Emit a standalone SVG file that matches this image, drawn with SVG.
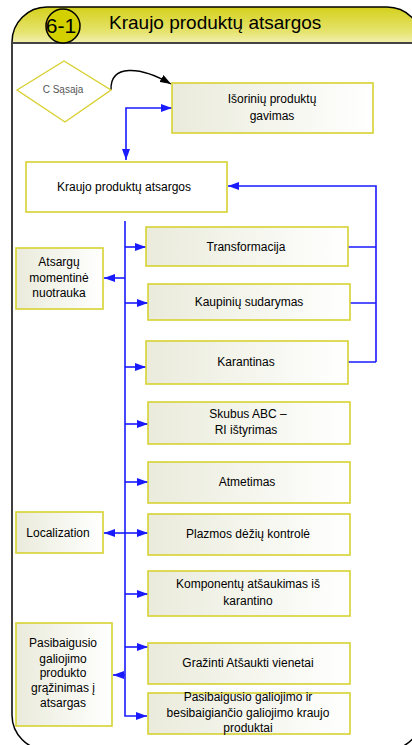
<svg xmlns="http://www.w3.org/2000/svg" width="412" height="745" viewBox="0 0 412 745">
  <defs>
    <linearGradient id="hdrGrad" x1="0" y1="0" x2="0" y2="1">
      <stop offset="0" stop-color="#d4d01c"/>
      <stop offset="0.55" stop-color="#e6e470"/>
      <stop offset="1" stop-color="#fbfbf0"/>
    </linearGradient>
    <linearGradient id="boxGrad" x1="0" y1="0" x2="1" y2="0">
      <stop offset="0" stop-color="#eaebdb"/>
      <stop offset="1" stop-color="#ffffff"/>
    </linearGradient>
    <clipPath id="frameClip">
      <rect x="12" y="7" width="410" height="743" rx="35" ry="35"/>
    </clipPath>
    <marker id="arrBlue" markerUnits="userSpaceOnUse" markerWidth="11" markerHeight="8" refX="11" refY="4" orient="auto-start-reverse">
      <path d="M0,0 L11,4 L0,8 z" fill="#1a1aff"/>
    </marker>
    <marker id="arrBlack" markerUnits="userSpaceOnUse" markerWidth="11" markerHeight="8" refX="11" refY="4" orient="auto">
      <path d="M0,0 L11,4 L0,8 z" fill="#000"/>
    </marker>
  </defs>
  <style>
    .box { fill: url(#boxGrad); stroke: #d6d232; stroke-width: 1.6; }
    .plain { fill: #ffffff; stroke: #d6d232; stroke-width: 1.6; }
    .lbl { font-family: "Liberation Sans", Arial, sans-serif; font-size: 12px; fill: #000; text-anchor: middle; }
    .wire { fill: none; stroke: #1a1aff; stroke-width: 1.6; }
  </style>

  <!-- swimlane frame with header -->
  <g id="frame">
    <rect x="12" y="7" width="410" height="46" fill="url(#hdrGrad)" clip-path="url(#frameClip)"/>
    <rect x="0" y="43" width="412" height="720" fill="#ffffff" clip-path="url(#frameClip)"/>
    <rect x="12" y="7" width="410" height="743" rx="35" ry="35" fill="none" stroke="#000" stroke-width="1.5"/>
    <line x1="12" y1="43" x2="412" y2="43" stroke="#444" stroke-width="2"/>
    <circle cx="63" cy="26" r="17" fill="#d4d000" stroke="#000" stroke-width="1.5"/>
    <text x="61" y="33" font-family="Liberation Sans, Arial, sans-serif" font-size="21" text-anchor="middle">6-1</text>
    <text x="109" y="29" font-family="Liberation Sans, Arial, sans-serif" font-size="19">Kraujo produktų atsargos</text>
  </g>

  <!-- connectors -->
  <g id="connectors">
    <path d="M111,90 C110,64 140,66 171,84" fill="none" stroke="#000" stroke-width="1.4" marker-end="url(#arrBlack)"/>
    <path class="wire" d="M172,108 H126 V160" marker-start="url(#arrBlue)" marker-end="url(#arrBlue)"/>
    <path class="wire" d="M376,362 V186 H228" marker-end="url(#arrBlue)"/>
    <path class="wire" d="M348,247 H376 M350,303 H376 M348,362 H376"/>
    <path class="wire" d="M125,221 V716 H147" marker-end="url(#arrBlue)"/>
    <path class="wire" d="M125,247 H146" marker-end="url(#arrBlue)"/>
    <path class="wire" d="M125,303 H148" marker-end="url(#arrBlue)"/>
    <path class="wire" d="M125,367 H146" marker-end="url(#arrBlue)"/>
    <path class="wire" d="M125,424 H148" marker-end="url(#arrBlue)"/>
    <path class="wire" d="M125,482 H148" marker-end="url(#arrBlue)"/>
    <path class="wire" d="M125,533 H148" marker-end="url(#arrBlue)"/>
    <path class="wire" d="M125,594 H148" marker-end="url(#arrBlue)"/>
    <path class="wire" d="M125,647 H148" marker-end="url(#arrBlue)"/>
    <path class="wire" d="M125,278 H104" marker-end="url(#arrBlue)"/>
    <path class="wire" d="M125,533 H104" marker-end="url(#arrBlue)"/>
    <path class="wire" d="M125,675 H113" marker-end="url(#arrBlue)"/>
  </g>

  <!-- nodes -->
  <g id="sasaja">
    <polygon points="17,90 64,61 111,90 65,122" fill="#ffffff" stroke="#d8d030" stroke-width="1.4"/>
    <text x="63" y="93" font-family="Liberation Sans, Arial, sans-serif" font-size="10" fill="#555" text-anchor="middle">C  Sąsaja</text>
  </g>
  <g id="isoriniu">
    <rect class="box" x="172" y="83" width="201" height="50"/>
    <text class="lbl" x="272" y="103">Išorinių produktų</text>
    <text class="lbl" x="272" y="120">gavimas</text>
  </g>
  <g id="atsargos">
    <rect class="plain" x="26" y="162" width="201" height="50"/>
    <text class="lbl" x="124" y="191">Kraujo produktų atsargos</text>
  </g>
  <g id="transformacija">
    <rect class="box" x="146" y="227" width="202" height="39"/>
    <text class="lbl" x="246" y="251">Transformacija</text>
  </g>
  <g id="momentine">
    <rect class="box" x="16" y="248" width="87" height="61"/>
    <text class="lbl" x="59" y="266">Atsargų</text>
    <text class="lbl" x="59" y="282">momentinė</text>
    <text class="lbl" x="59" y="297">nuotrauka</text>
  </g>
  <g id="kaupiniu">
    <rect class="box" x="148" y="284" width="202" height="36"/>
    <text class="lbl" x="249" y="306">Kaupinių sudarymas</text>
  </g>
  <g id="karantinas">
    <rect class="box" x="146" y="341" width="202" height="43"/>
    <text class="lbl" x="246" y="366">Karantinas</text>
  </g>
  <g id="skubus">
    <rect class="box" x="148" y="402" width="202" height="42"/>
    <text class="lbl" x="248" y="418">Skubus ABC –</text>
    <text class="lbl" x="246" y="434">RI  ištyrimas</text>
  </g>
  <g id="atmetimas">
    <rect class="box" x="148" y="462" width="202" height="41"/>
    <text class="lbl" x="247" y="486">Atmetimas</text>
  </g>
  <g id="localization">
    <rect class="box" x="16" y="512" width="87" height="41"/>
    <text class="lbl" x="58" y="537">Localization</text>
  </g>
  <g id="plazmos">
    <rect class="box" x="148" y="514" width="202" height="41"/>
    <text class="lbl" x="248" y="538">Plazmos dėžių kontrolė</text>
  </g>
  <g id="komponentu">
    <rect class="box" x="148" y="571" width="202" height="45"/>
    <text class="lbl" x="248" y="588">Komponentų atšaukimas iš</text>
    <text class="lbl" x="248" y="605">karantino</text>
  </g>
  <g id="grazinti">
    <rect class="box" x="148" y="643" width="202" height="41"/>
    <text class="lbl" x="248" y="667">Gražinti Atšaukti vienetai</text>
  </g>
  <g id="pasibaigusio-grazinimas">
    <rect class="box" x="16" y="623" width="96" height="103"/>
    <text class="lbl" x="63" y="647">Pasibaigusio</text>
    <text class="lbl" x="63" y="663">galiojimo</text>
    <text class="lbl" x="63" y="677">produkto</text>
    <text class="lbl" x="63" y="692">grąžinimas į</text>
    <text class="lbl" x="63" y="707">atsargas</text>
  </g>
  <g id="pasibaigusio-produktai">
    <rect class="box" x="148" y="693" width="202" height="41"/>
    <text class="lbl" x="248" y="701">Pasibaigusio galiojimo ir</text>
    <text class="lbl" x="248" y="717">besibaigiančio galiojimo kraujo</text>
    <text class="lbl" x="248" y="732">produktai</text>
  </g>
</svg>
